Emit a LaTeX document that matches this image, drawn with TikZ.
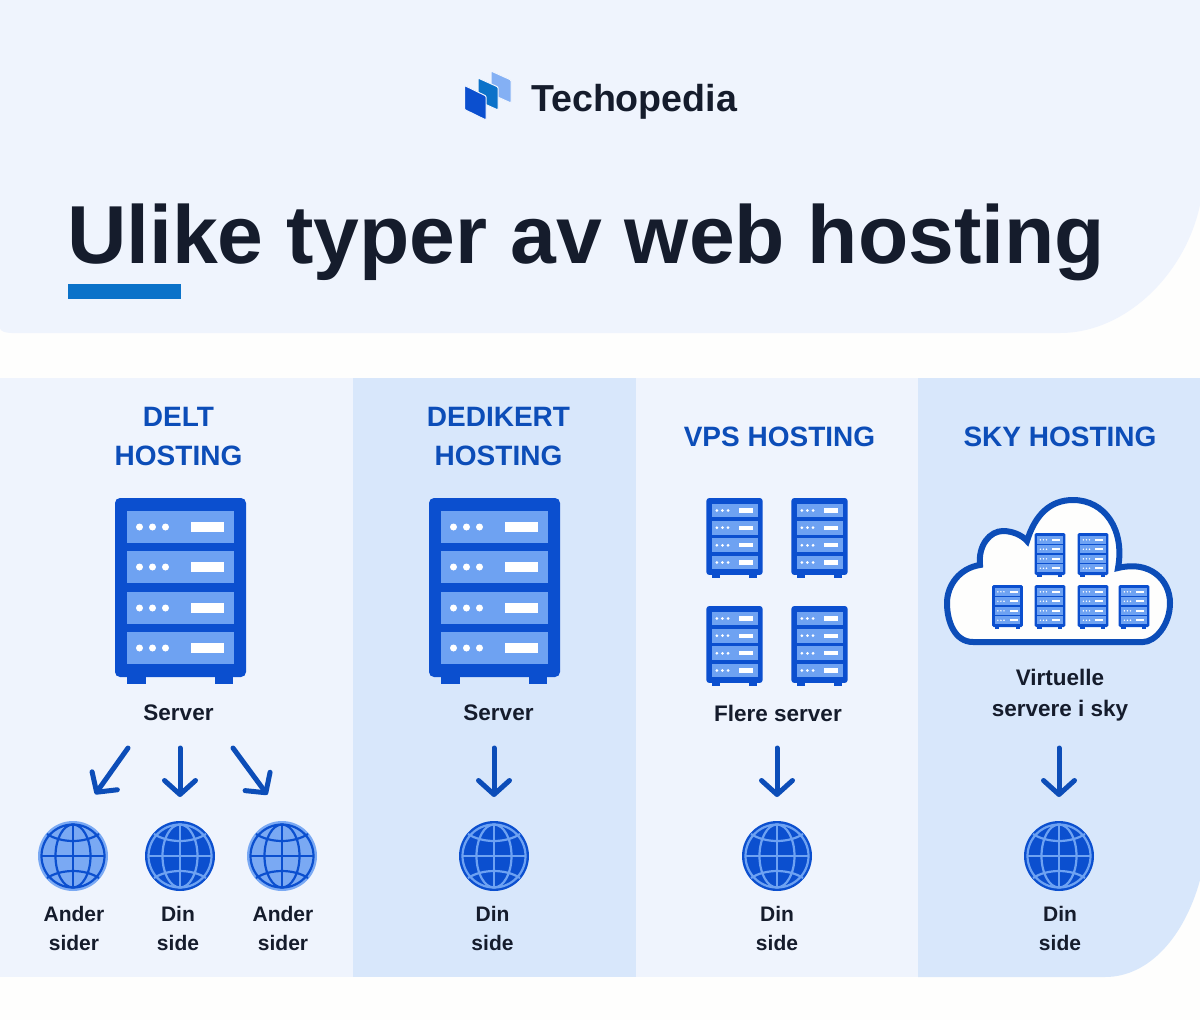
\documentclass[tikz,border=0pt]{standalone}
\usepackage{fontspec}
\setmainfont{Liberation Sans}
\usetikzlibrary{arrows.meta}
\definecolor{pagewhite}{HTML}{FEFEFD}
\definecolor{panelpale}{HTML}{EFF4FD}
\definecolor{panelblue}{HTML}{D8E7FB}
\definecolor{rackblue}{HTML}{0B4FCF}
\definecolor{slotblue}{HTML}{6EA2F2}
\definecolor{headblue}{HTML}{0C4DB8}
\definecolor{inkdark}{HTML}{151C2C}
\definecolor{barblue}{HTML}{0B72C9}
\tikzset{
	label/.style={inner sep=0pt,outer sep=0pt,align=center,text=inkdark,font=\fontsize{21}{29}\selectfont\bfseries},
	bigtext/.style={label,font=\fontsize{22.5}{31}\selectfont\bfseries},
	heading/.style={inner sep=0pt,outer sep=0pt,align=center,text=headblue,font=\fontsize{28}{39}\selectfont\bfseries},
	logoleaf/.style={draw=panelpale,line width=1pt,rounded corners=1pt},
	globeshape/.style={circle,minimum size=70pt,inner sep=0pt,outer sep=0pt},
	globelight/.style={globeshape,fill=slotblue!92!white},
	globedark/.style={globeshape,fill=rackblue},
	webarrow/.style={draw=headblue,line width=5pt,line cap=round,-{Straight Barb[length=14pt,width=31pt,round]}},
	pics/rackicon/.style={code={
		\fill[rackblue] (-53.5,175) rectangle (-34.5,186);
		\fill[rackblue] (34.5,175) rectangle (52.5,186);
		\fill[rackblue,rounded corners=#1] (-65.5,0) rectangle (65.5,179);
		\foreach \y in {13,53,94,134} {
			\fill[slotblue] (-53.5,\y) rectangle (53.5,\y+32);
			\foreach \x in {-41,-28,-15}
				\fill[white] (\x,\y+16) circle (3.5);
			\fill[white] (10.5,\y+11) rectangle (43.5,\y+21);
		}
	}},
	pics/globelines/.style={code={
		\begin{scope}[draw=#1,line width=2.2pt]
		\draw (0,0) circle (31.5);
		\draw (0,0) ellipse (17.5 and 31.5);
		\draw (-31.5,0) -- (31.5,0);
		\draw (0,-31.5) -- (0,31.5);
		\draw (-26,-22) .. controls (-12,-12.7) and (12,-12.7) .. (26,-22);
		\draw (-26,22) .. controls (-12,12.7) and (12,12.7) .. (26,22);
		\end{scope}
	}}
}
\begin{document}
\begin{tikzpicture}[x=1pt,y=-1pt]
\useasboundingbox (0,0) rectangle (1200,1020);
\fill[pagewhite] (0,0) rectangle (1200,1020);
\fill[panelpale] (0,0) -- (1200,0) -- (1200,205) .. controls (1185,275) and (1125,333) .. (1060,333) -- (12,333) .. controls (5,333) and (0,331) .. (0,328) -- cycle;
\fill[panelpale] (0,378) rectangle (353,977);
\fill[panelblue] (353,378) rectangle (636,977);
\fill[panelpale] (636,378) rectangle (918,977);
\fill[panelblue] (918,378) -- (1200,378) -- (1200,880) .. controls (1185,935) and (1150,977) .. (1105,977) -- (918,977) -- cycle;
\fill[barblue] (68,284) rectangle (181,299);

\filldraw[logoleaf,fill=slotblue!85!white] (491,71) -- (511,80) -- (511,103) -- (491,94) -- cycle;
\filldraw[logoleaf,fill=barblue] (478,78) -- (498,87) -- (498,110) -- (478,101) -- cycle;
\filldraw[logoleaf,fill=rackblue] (464.5,85.5) -- (486,96) -- (486,120) -- (464.5,109.5) -- cycle;

\path (531,111) node[label,anchor=base west,font=\fontsize{37.6}{37}\selectfont\bfseries] (logo) {Techopedia}
		(67,263) node[label,anchor=base west,font=\fontsize{82.3}{82}\selectfont\bfseries,text=inkdark] (title) {Ulike typer av web hosting}
		(178.5,436.5) node[heading] (headdelt) {DELT\\HOSTING}
		(498.5,436.5) node[heading] (headdedi) {DEDIKERT\\HOSTING}
		(779.5,437) node[heading] (headvps) {VPS HOSTING}
		(1060,437) node[heading] (headsky) {SKY HOSTING}
		;

\pic at (180.5,498) {rackicon=5pt};
\pic at (494.5,498) {rackicon=5pt};
\foreach \x/\y in {734.5/498,819.5/498,734.5/606,819.5/606}
	\pic[scale=0.43] at (\x,\y) {rackicon=3pt};

\draw[headblue,line width=6pt,fill=pagewhite] (973,642) .. controls (955,642) and (947,622) .. (947,603) .. controls (947,585) and (960,568) .. (980,565) .. controls (978,545) and (990,531) .. (1003,531) .. controls (1012,531) and (1022,535) .. (1027,541) .. controls (1035,515) and (1050,500) .. (1073,500) .. controls (1105,500) and (1125,530) .. (1118,568) .. controls (1150,560) and (1170,580) .. (1170,603) .. controls (1170,625) and (1155,642) .. (1143,642) -- cycle;
\foreach \x/\y in {1050/533,1093/533,1007.5/585,1050/585,1093/585,1134/585}
	\pic[scale=0.235] at (\x,\y) {rackicon=1.5pt};

\path (178.5,713) node[bigtext] (serverdelt) {Server}
		(498.5,713) node[bigtext] (serverdedi) {Server}
		(778,713) node[bigtext] (servervps) {Flere server}
		(1060,695.5) node[bigtext] (serversky) {Virtuelle\\servere i sky}
		(73,856) node[globelight] (globea) {}
		(180,856) node[globedark] (globeb) {}
		(282,856) node[globelight] (globec) {}
		(494,856) node[globedark] (globededi) {}
		(777,856) node[globedark] (globevps) {}
		(1059,856) node[globedark] (globesky) {}
		(74,928.5) node[label] (sidea) {Ander\\sider}
		(178,928.5) node[label] (sideb) {Din\\side}
		(283,928.5) node[label] (sidec) {Ander\\sider}
		(492.5,928.5) node[label] (sidededi) {Din\\side}
		(777,928.5) node[label] (sidevps) {Din\\side}
		(1060,928.5) node[label] (sidesky) {Din\\side}
		;

\pic at (globea) {globelines=rackblue};
\pic at (globeb) {globelines=slotblue};
\pic at (globec) {globelines=rackblue};
\pic at (globededi) {globelines=slotblue};
\pic at (globevps) {globelines=slotblue};
\pic at (globesky) {globelines=slotblue};

\coordinate (arrowa) at (128,748);
\coordinate (arrowb) at (180,748);
\coordinate (arrowc) at (233,748);
\coordinate (arrowdedi) at (494,748);
\coordinate (arrowvps) at (777,748);
\coordinate (arrowsky) at (1059,748);
\draw[webarrow,shorten >=33pt] (arrowa) -- (globea.85);
\draw[webarrow,shorten >=24pt] (arrowb) -- (globeb.north);
\draw[webarrow,shorten >=33pt] (arrowc) -- (globec.82);
\draw[webarrow,shorten >=24pt] (arrowdedi) -- (globededi.north);
\draw[webarrow,shorten >=24pt] (arrowvps) -- (globevps.north);
\draw[webarrow,shorten >=24pt] (arrowsky) -- (globesky.north);
\end{tikzpicture}
\end{document}
